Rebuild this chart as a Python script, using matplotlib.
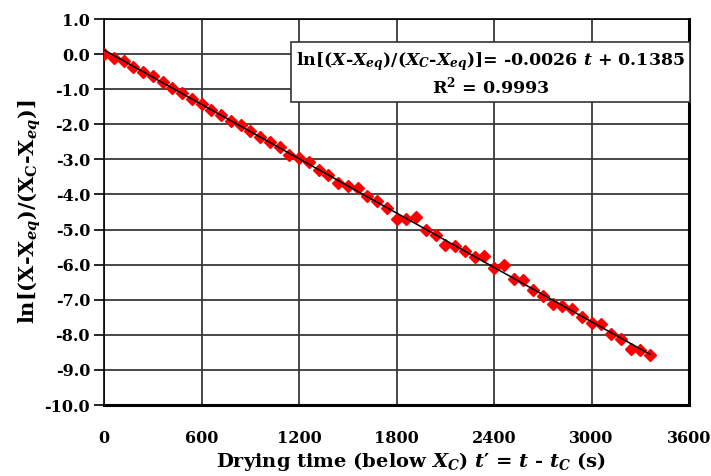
import numpy as np
import matplotlib
matplotlib.use("Agg")
import matplotlib.pyplot as plt

FONT = 'DejaVu Serif'
plt.rcParams['font.family'] = [FONT, 'Liberation Serif']
plt.rcParams['font.weight'] = 'bold'
plt.rcParams['mathtext.fontset'] = 'custom'
plt.rcParams['mathtext.rm'] = FONT + ':bold'
plt.rcParams['mathtext.it'] = FONT + ':bold:italic'
plt.rcParams['mathtext.bf'] = FONT + ':bold'

t_values = list(range(0, 3361, 60))
ln_ratio = [0.0, -0.10, -0.19, -0.36, -0.50, -0.62, -0.80, -0.96, -1.12, -1.27,
            -1.41, -1.58, -1.73, -1.91, -2.03, -2.20, -2.37, -2.50, -2.66, -2.88,
            -2.97, -3.07, -3.29, -3.44, -3.67, -3.75, -3.81, -4.05, -4.18, -4.38,
            -4.71, -4.69, -4.64, -5.00, -5.15, -5.45, -5.47, -5.61, -5.77, -5.76,
            -6.09, -6.02, -6.40, -6.44, -6.71, -6.88, -7.12, -7.17, -7.26, -7.49,
            -7.65, -7.69, -7.97, -8.12, -8.41, -8.43, -8.58]
x_ticks = [0, 600, 1200, 1800, 2400, 3000, 3600]
y_ticks = [1.0, 0.0, -1.0, -2.0, -3.0, -4.0, -5.0, -6.0, -7.0, -8.0, -9.0, -10.0]

t = np.array(t_values, dtype=float)
y = np.array(ln_ratio)
slope, intercept = np.polyfit(t, y, 1)

fig = plt.figure(figsize=(7.11, 4.76), dpi=100)
ax = fig.add_axes([104/711, 1 - 405/476, (689-104)/711, (405-19)/476])

ax.set_xlim(0, 3600)
ax.set_ylim(-10, 1)
ax.set_xticks(x_ticks)
ax.set_yticks(y_ticks)
ax.set_yticklabels([f"{v:.1f}" for v in y_ticks])
ax.grid(True, color='#383838', linewidth=1.3)
ax.set_axisbelow(True)
ax.tick_params(axis='x', length=0, pad=18, labelsize=11.5)
ax.tick_params(axis='y', length=7, width=1.2, direction='out', pad=3, labelsize=11.5)
for lab in ax.get_xticklabels() + ax.get_yticklabels():
    lab.set_fontweight('bold')

for s in ['left', 'top']:
    ax.spines[s].set_linewidth(1.2)
for s in ['right', 'bottom']:
    ax.spines[s].set_linewidth(2.2)

ax.plot(t, y, linestyle='none', marker='D', markersize=6, color='#ff0000', zorder=3)
tt = np.array([t.min(), t.max()])
ax.plot(tt, slope * tt + intercept, color='black', linewidth=1.1, zorder=4)

ax.text(0.661, 0.858,
        r'ln[($\mathit{X}$-$\mathit{X}_{\mathit{eq}}$)/($\mathit{X}_{\mathit{C}}$-$\mathit{X}_{\mathit{eq}}$)]= -0.0026 $\mathit{t}$ + 0.1385'
        '\n' r'R$^{2}$ = 0.9993',
        transform=ax.transAxes, ha='center', va='center', fontsize=12.5,
        fontweight='bold', linespacing=1.15, zorder=6,
        bbox=dict(boxstyle='square,pad=0.28', facecolor='white', edgecolor='#333333', linewidth=1.2))

ax.set_xlabel(r'Drying time (below $\mathit{X}_{\mathit{C}}$) $\mathit{t}$′ = $\mathit{t}$ - $\mathit{t}_{\mathit{C}}$ (s)',
              fontsize=14, fontweight='bold', labelpad=2)
ax.xaxis.label.set_x(0.525)
ax.set_ylabel(r'ln[(X-X$_{\mathit{eq}}$)/(X$_{\mathrm{C}}$-X$_{\mathit{eq}}$)]',
              fontsize=15, fontweight='bold', labelpad=1)

fig.savefig('out.png', dpi=100)
